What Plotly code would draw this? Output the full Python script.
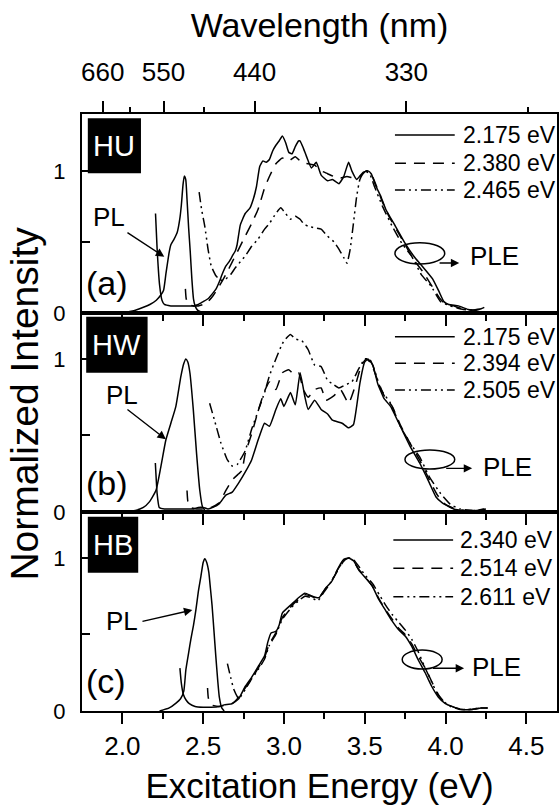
import plotly.graph_objects as go

FONT = "Liberation Sans, Arial, Helvetica, sans-serif"

# ---------------- data ----------------
# Panel (a): HU
e_pl_hu = [2.00, 2.08, 2.13, 2.17, 2.21, 2.24, 2.255, 2.27, 2.29, 2.30, 2.32, 2.34, 2.355, 2.365,
           2.375, 2.383, 2.392, 2.40, 2.41, 2.42, 2.43, 2.44, 2.45, 2.465, 2.49]
i_pl_hu = [0.0, 0.02, 0.04, 0.06, 0.09, 0.13, 0.16, 0.28, 0.43, 0.48, 0.52, 0.57, 0.66, 0.76,
           0.90, 0.963, 0.94, 0.80, 0.60, 0.43, 0.24, 0.10, 0.05, 0.02, 0.005]

e_hu_1 = [2.205, 2.215, 2.23, 2.245, 2.26, 2.30, 2.35, 2.40, 2.44, 2.47, 2.50, 2.53, 2.56, 2.58,
          2.60, 2.62, 2.64, 2.66, 2.68, 2.70, 2.71, 2.73, 2.76, 2.79, 2.81, 2.83, 2.85, 2.87,
          2.89, 2.91, 2.93, 2.95, 2.97, 2.99, 3.01, 3.03, 3.05, 3.07, 3.09, 3.10, 3.12, 3.14,
          3.17, 3.20, 3.23, 3.27, 3.30, 3.34, 3.37, 3.40, 3.42, 3.45, 3.49, 3.52, 3.54, 3.57,
          3.60, 3.63, 3.69, 3.75, 3.81, 3.87, 3.92, 3.96, 3.99, 4.02, 4.08, 4.14, 4.19, 4.22, 4.24]
i_hu_1 = [0.70, 0.45, 0.20, 0.09, 0.06, 0.05, 0.05, 0.05, 0.05, 0.06, 0.08, 0.10, 0.14, 0.17,
          0.22, 0.28, 0.33, 0.36, 0.40, 0.44, 0.48, 0.62, 0.70, 0.74, 0.80, 0.89, 1.03, 1.07,
          1.06, 1.08, 1.14, 1.18, 1.21, 1.245, 1.20, 1.13, 1.12, 1.17, 1.21, 1.21, 1.16, 1.10,
          1.02, 1.06, 0.97, 0.93, 0.94, 0.91, 0.96, 1.06, 1.00, 0.94, 0.99, 1.00, 0.98, 0.89,
          0.82, 0.73, 0.61, 0.49, 0.39, 0.31, 0.24, 0.15, 0.08, 0.06, 0.05, 0.025, 0.02, 0.03, 0.04]

e_hu_2 = [2.39, 2.395, 2.41, 2.44, 2.47, 2.50, 2.53, 2.56, 2.60, 2.64, 2.68, 2.72, 2.76, 2.80,
          2.84, 2.88, 2.91, 2.95, 2.99, 3.03, 3.07, 3.11, 3.15, 3.19, 3.23, 3.27, 3.31, 3.35,
          3.39, 3.43, 3.47, 3.51, 3.54, 3.57, 3.61, 3.65, 3.70, 3.75, 3.80, 3.86, 3.91, 3.96,
          4.00, 4.05, 4.10, 4.16, 4.22, 4.25]
i_hu_2 = [0.17, 0.10, 0.06, 0.05, 0.05, 0.06, 0.08, 0.12, 0.19, 0.27, 0.36, 0.45, 0.54, 0.63,
          0.73, 0.88, 0.96, 1.05, 1.09, 1.07, 1.10, 1.06, 1.05, 1.04, 1.00, 0.98, 0.96, 0.95,
          0.96, 0.95, 0.96, 1.00, 0.98, 0.90, 0.78, 0.68, 0.58, 0.48, 0.38, 0.29, 0.20, 0.11,
          0.06, 0.05, 0.03, 0.02, 0.03, 0.03]

e_hu_3 = [2.475, 2.49, 2.51, 2.53, 2.55, 2.58, 2.61, 2.64, 2.67, 2.70, 2.73, 2.76, 2.80, 2.84,
          2.88, 2.91, 2.95, 2.98, 3.01, 3.04, 3.07, 3.10, 3.12, 3.15, 3.19, 3.23, 3.27, 3.31,
          3.34, 3.37, 3.39, 3.41, 3.43, 3.45, 3.47, 3.50, 3.53, 3.56, 3.61, 3.67, 3.73, 3.79,
          3.85, 3.91, 3.97, 4.03, 4.11, 4.19]
i_hu_3 = [0.85, 0.73, 0.61, 0.45, 0.33, 0.26, 0.23, 0.24, 0.27, 0.32, 0.36, 0.40, 0.47, 0.52,
          0.59, 0.63, 0.70, 0.74, 0.70, 0.66, 0.68, 0.66, 0.63, 0.61, 0.60, 0.59, 0.54, 0.50,
          0.45, 0.39, 0.35, 0.45, 0.63, 0.82, 0.94, 1.00, 0.98, 0.89, 0.75, 0.61, 0.49, 0.40,
          0.27, 0.19, 0.08, 0.05, 0.025, 0.02]

# Panel (b): HW
e_pl_hw = [2.00, 2.08, 2.13, 2.167, 2.208, 2.238, 2.269, 2.30, 2.331, 2.362, 2.38, 2.393,
           2.405, 2.418, 2.439, 2.459, 2.479, 2.496, 2.515]
i_pl_hw = [0.0, 0.01, 0.03, 0.066, 0.142, 0.295, 0.47, 0.58, 0.69, 0.886, 0.97, 1.0,
           0.98, 0.908, 0.667, 0.383, 0.142, 0.033, 0.005]

e_hw_1 = [2.204, 2.215, 2.228, 2.26, 2.30, 2.35, 2.40, 2.44, 2.47, 2.50, 2.53, 2.56, 2.60, 2.64,
          2.68, 2.72, 2.76, 2.80, 2.84, 2.88, 2.91, 2.95, 2.98, 3.00, 3.04, 3.07, 3.10, 3.13,
          3.15, 3.19, 3.23, 3.27, 3.30, 3.36, 3.40, 3.43, 3.45, 3.47, 3.50, 3.52, 3.55, 3.58,
          3.62, 3.66, 3.72, 3.78, 3.84, 3.90, 3.94, 3.98, 4.05, 4.11, 4.19, 4.24]
i_hw_1 = [0.32, 0.12, 0.03, 0.02, 0.02, 0.02, 0.02, 0.02, 0.03, 0.03, 0.02, 0.03, 0.055, 0.11,
          0.13, 0.19, 0.26, 0.34, 0.47, 0.58, 0.56, 0.67, 0.74, 0.69, 0.78, 0.70, 0.91, 0.75,
          0.67, 0.73, 0.67, 0.64, 0.60, 0.58, 0.55, 0.57, 0.69, 0.84, 0.98, 1.00, 0.96, 0.84,
          0.74, 0.69, 0.56, 0.43, 0.32, 0.19, 0.10, 0.06, 0.02, 0.01, 0.01, 0.02]

e_hw_2 = [2.40, 2.405, 2.42, 2.46, 2.50, 2.55, 2.60, 2.64, 2.68, 2.72, 2.74, 2.76, 2.80, 2.84,
          2.88, 2.91, 2.95, 2.99, 3.03, 3.06, 3.09, 3.12, 3.15, 3.19, 3.23, 3.26, 3.31, 3.35,
          3.40, 3.44, 3.48, 3.51, 3.54, 3.58, 3.62, 3.67, 3.72, 3.78, 3.84, 3.90, 3.95, 4.00,
          4.06, 4.12, 4.19, 4.25]
i_hw_2 = [0.14, 0.07, 0.03, 0.02, 0.02, 0.03, 0.06, 0.14, 0.21, 0.25, 0.27, 0.38, 0.51, 0.66,
          0.79, 0.85, 0.80, 0.91, 0.93, 0.90, 0.91, 0.80, 0.75, 0.80, 0.81, 0.73, 0.76, 0.80,
          0.71, 0.82, 0.96, 1.00, 0.97, 0.86, 0.76, 0.69, 0.57, 0.45, 0.34, 0.21, 0.11, 0.05,
          0.02, 0.01, 0.01, 0.02]

e_hw_3 = [2.54, 2.57, 2.61, 2.65, 2.68, 2.71, 2.76, 2.80, 2.84, 2.88, 2.91, 2.95, 2.99, 3.01,
          3.04, 3.07, 3.11, 3.15, 3.19, 3.23, 3.27, 3.31, 3.34, 3.38, 3.42, 3.46, 3.50, 3.53,
          3.56, 3.60, 3.66, 3.72, 3.78, 3.84, 3.90, 3.97, 4.03, 4.09, 4.17, 4.25]
i_hw_3 = [0.71, 0.60, 0.45, 0.34, 0.30, 0.31, 0.40, 0.54, 0.66, 0.78, 0.89, 1.00, 1.10, 1.13,
          1.16, 1.13, 1.12, 1.06, 0.96, 0.95, 0.86, 0.83, 0.81, 0.83, 0.85, 0.93, 1.00, 1.00,
          0.93, 0.80, 0.71, 0.56, 0.45, 0.36, 0.23, 0.12, 0.05, 0.02, 0.01, 0.01]

# Panel (c): HB
e_pl_hb = [2.23, 2.29, 2.33, 2.36, 2.38, 2.393, 2.41, 2.424, 2.44, 2.455, 2.47, 2.486, 2.50,
           2.51, 2.522, 2.535, 2.545, 2.555, 2.567, 2.578, 2.59, 2.60, 2.615, 2.63]
i_pl_hb = [0.0, 0.02, 0.05, 0.08, 0.13, 0.27, 0.38, 0.47, 0.56, 0.66, 0.78, 0.88, 0.97,
           0.995, 0.97, 0.905, 0.80, 0.69, 0.52, 0.36, 0.20, 0.09, 0.02, 0.0]

e_hb_1 = [2.356, 2.365, 2.377, 2.395, 2.414, 2.45, 2.50, 2.55, 2.60, 2.63, 2.68, 2.72, 2.76,
          2.80, 2.84, 2.88, 2.90, 2.92, 2.95, 2.97, 2.99, 3.05, 3.09, 3.13, 3.175, 3.216, 3.257,
          3.298, 3.339, 3.37, 3.40, 3.432, 3.463, 3.504, 3.545, 3.586, 3.627, 3.668, 3.71, 3.75,
          3.792, 3.833, 3.874, 3.915, 3.956, 3.997, 4.038, 4.10, 4.16, 4.22, 4.26]
i_hb_1 = [0.28, 0.18, 0.11, 0.07, 0.048, 0.03, 0.025, 0.025, 0.03, 0.04, 0.048, 0.08, 0.16,
          0.22, 0.29, 0.36, 0.45, 0.51, 0.52, 0.56, 0.64, 0.70, 0.74, 0.77, 0.75, 0.74, 0.80,
          0.85, 0.94, 0.99, 1.00, 0.98, 0.92, 0.87, 0.82, 0.73, 0.66, 0.59, 0.53, 0.49,
          0.42, 0.33, 0.25, 0.16, 0.09, 0.05, 0.03, 0.01, 0.01, 0.02, 0.02]

e_hb_2 = [2.527, 2.532, 2.55, 2.60, 2.64, 2.68, 2.72, 2.76, 2.80, 2.84, 2.88, 2.91, 2.95, 2.99,
          3.05, 3.09, 3.13, 3.17, 3.21, 3.25, 3.30, 3.34, 3.37, 3.40, 3.43, 3.46, 3.50, 3.55,
          3.59, 3.63, 3.67, 3.71, 3.75, 3.79, 3.83, 3.88, 3.92, 3.96, 4.00, 4.04, 4.10, 4.16,
          4.22, 4.26]
i_hb_2 = [0.15, 0.085, 0.04, 0.03, 0.04, 0.05, 0.09, 0.15, 0.21, 0.28, 0.35, 0.44, 0.51, 0.61,
          0.69, 0.73, 0.76, 0.75, 0.73, 0.79, 0.86, 0.93, 0.98, 1.00, 0.98, 0.93, 0.88, 0.81,
          0.73, 0.66, 0.60, 0.54, 0.50, 0.44, 0.36, 0.27, 0.18, 0.10, 0.05, 0.03, 0.01, 0.01,
          0.02, 0.02]

e_hb_3 = [2.65, 2.67, 2.69, 2.72, 2.76, 2.80, 2.84, 2.88, 2.91, 2.95, 2.99, 3.05, 3.09, 3.13,
          3.17, 3.21, 3.25, 3.29, 3.33, 3.37, 3.40, 3.43, 3.46, 3.50, 3.55, 3.59, 3.63, 3.67,
          3.71, 3.75, 3.79, 3.83, 3.87, 3.91, 3.95, 3.99, 4.03, 4.09, 4.15, 4.21, 4.26]
i_hb_3 = [0.31, 0.22, 0.14, 0.08, 0.14, 0.21, 0.27, 0.34, 0.43, 0.50, 0.60, 0.68, 0.72, 0.75,
          0.74, 0.72, 0.78, 0.84, 0.92, 0.98, 1.00, 0.99, 0.95, 0.89, 0.83, 0.76, 0.69, 0.63,
          0.58, 0.53, 0.47, 0.39, 0.29, 0.20, 0.11, 0.06, 0.03, 0.01, 0.01, 0.02, 0.02]

sample_labels = ["HU", "HW", "HB"]
panel_tags = ["(a)", "(b)", "(c)"]
monitor_hu = ["2.175 eV", "2.380 eV", "2.465 eV"]
monitor_hw = ["2.175 eV", "2.394 eV", "2.505 eV"]
monitor_hb = ["2.340 eV", "2.514 eV", "2.611 eV"]

energy_ticks = [2.0, 2.5, 3.0, 3.5, 4.0, 4.5]
energy_minor = [2.25, 2.75, 3.25, 3.75, 4.25]
wl_ticks = [660, 550, 440, 330]
wl_minor = [605, 495, 385, 275]

# ---------------- styling ----------------
LW = 1.5
SOLID = "solid"
DASH = "11px,8px"
DADO = "10px,4px,2px,4px,2px,4px"
STYLES = [SOLID, DASH, DADO]
X_RANGE = [1.75, 4.69]

fig = go.Figure()

panels = [
    dict(xa="x", ya="y", pl=(e_pl_hu, i_pl_hu),
         ple=[(e_hu_1, i_hu_1), (e_hu_2, i_hu_2), (e_hu_3, i_hu_3)], names=monitor_hu),
    dict(xa="x2", ya="y2", pl=(e_pl_hw, i_pl_hw),
         ple=[(e_hw_1, i_hw_1), (e_hw_2, i_hw_2), (e_hw_3, i_hw_3)], names=monitor_hw),
    dict(xa="x3", ya="y3", pl=(e_pl_hb, i_pl_hb),
         ple=[(e_hb_1, i_hb_1), (e_hb_2, i_hb_2), (e_hb_3, i_hb_3)], names=monitor_hb),
]

for k, p in enumerate(panels):
    fig.add_trace(go.Scatter(x=p["pl"][0], y=p["pl"][1], mode="lines",
                             line=dict(color="black", width=LW, shape="spline", smoothing=0.5),
                             xaxis=p["xa"], yaxis=p["ya"], showlegend=False,
                             name="PL " + sample_labels[k]))
    for (ex, iy), nm, ds in zip(p["ple"], p["names"], STYLES):
        fig.add_trace(go.Scatter(x=ex, y=iy, mode="lines",
                                 line=dict(color="black", width=LW, dash=ds,
                                           shape="spline", smoothing=0.4),
                                 xaxis=p["xa"], yaxis=p["ya"], showlegend=False,
                                 name=sample_labels[k] + " " + nm))

# wavelength axis needs a (empty) trace to exist
fig.add_trace(go.Scatter(x=[], y=[], xaxis="x4", yaxis="y", showlegend=False))

tick_common = dict(tickcolor="black", tickwidth=2)
xbase = dict(range=X_RANGE, showline=True, linewidth=2, linecolor="black", mirror=True,
             ticks="outside", ticklen=11, tickvals=energy_ticks,
             minor=dict(tickvals=energy_minor, ticks="outside", ticklen=6,
                        tickwidth=2, tickcolor="black", showgrid=False),
             showgrid=False, zeroline=False, **tick_common)

fig.update_layout(
    xaxis=dict(xbase, anchor="y", showticklabels=False),
    xaxis2=dict(xbase, anchor="y2", matches="x", showticklabels=False),
    xaxis3=dict(xbase, anchor="y3", matches="x", showticklabels=True,
                tickfont=dict(size=26, family=FONT, color="black"),
                ticktext=[f"{v:.1f}" for v in energy_ticks],
                title=dict(text="Excitation Energy (eV)", standoff=17,
                           font=dict(size=35, family=FONT, color="black"))),
    xaxis4=dict(range=X_RANGE, overlaying="x", anchor="y", side="top",
                tickvals=[1240.0 / w for w in wl_ticks], ticktext=[str(w) for w in wl_ticks],
                ticks="outside", ticklen=12, ticklabelstandoff=10,
                minor=dict(tickvals=[1240.0 / w for w in wl_minor], ticks="outside",
                           ticklen=6, tickwidth=2, tickcolor="black", showgrid=False),
                showline=False, showgrid=False, zeroline=False,
                tickfont=dict(size=26, family=FONT, color="black"),
                title=dict(text="Wavelength (nm)", standoff=8,
                           font=dict(size=34, family=FONT, color="black")),
                **tick_common),
)

ybase = dict(tickvals=[0, 0.5, 1], ticktext=["0", "", "1"], ticks="inside", ticklen=8,
             showline=True, linewidth=2, linecolor="black", mirror=True,
             showgrid=False, zeroline=False, ticklabelstandoff=10,
             tickfont=dict(size=22, family=FONT, color="black"), **tick_common)
fig.update_layout(
    yaxis=dict(ybase, domain=[2 / 3, 1], range=[0, 1.4], anchor="x"),
    yaxis2=dict(ybase, domain=[1 / 3, 2 / 3], range=[0, 1.3], anchor="x2"),
    yaxis3=dict(ybase, domain=[0, 1 / 3], range=[0, 1.3], anchor="x3"),
)

shapes = []
annotations = []

# per-panel decorations: sample box, tags, PL arrow, PLE ellipse, monitor legend
deco = [
    dict(ya="y", box=(1.786, 2.115, 0.983, 1.37), boxlab=(1.95, 1.176),
         pl=(1.914, 0.672), pl_tail=(2.022, 0.572), pl_head=(2.259, 0.396),
         tag=(1.904, 0.211),
         ell=(3.687, 3.995, 0.345, 0.495), arr_tail=(3.954, 0.352), arr_head=(4.085, 0.352),
         ple=(4.14, 0.40),
         leg_x=(3.687, 4.057), leg_tx=4.094, leg_y=[1.252, 1.053, 0.865]),
    dict(ya="y2", box=(1.776, 2.156, 0.91, 1.276), boxlab=(1.966, 1.093),
         pl=(1.997, 0.764), pl_tail=(2.022, 0.677), pl_head=(2.269, 0.475),
         tag=(1.904, 0.19),
         ell=(3.749, 4.057, 0.281, 0.405), arr_tail=(3.995, 0.285), arr_head=(4.165, 0.285),
         ple=(4.221, 0.296),
         leg_x=(3.687, 4.057), leg_tx=4.098, leg_y=[1.145, 0.971, 0.797]),
    dict(ya="y3", box=(1.786, 2.098, 0.903, 1.269), boxlab=(1.942, 1.086),
         pl=(1.997, 0.588), pl_tail=(2.115, 0.583), pl_head=(2.433, 0.66),
         tag=(1.899, 0.196),
         ell=(3.732, 3.979, 0.274, 0.398), arr_tail=(3.913, 0.279), arr_head=(4.115, 0.279),
         ple=(4.149, 0.289),
         leg_x=(3.677, 4.047), leg_tx=4.077, leg_y=[1.117, 0.932, 0.747]),
]
xrefs = ["x", "x2", "x3"]
for k, d in enumerate(deco):
    xr, yr = xrefs[k], d["ya"]
    x0, x1, y0, y1 = d["box"]
    shapes.append(dict(type="rect", xref=xr, yref=yr, x0=x0, x1=x1, y0=y0, y1=y1,
                       fillcolor="black", line=dict(width=0), layer="above"))
    annotations.append(dict(xref=xr, yref=yr, x=d["boxlab"][0], y=d["boxlab"][1],
                            text=sample_labels[k], showarrow=False,
                            font=dict(size=29, family=FONT, color="white")))
    annotations.append(dict(xref=xr, yref=yr, x=d["pl"][0], y=d["pl"][1], text="PL",
                            showarrow=False, font=dict(size=26, family=FONT, color="black")))
    annotations.append(dict(xref=xr, yref=yr, x=d["pl_head"][0], y=d["pl_head"][1],
                            ax=d["pl_tail"][0], ay=d["pl_tail"][1], axref=xr, ayref=yr,
                            text="", showarrow=True, arrowhead=2, arrowsize=1.2,
                            arrowwidth=1.4, arrowcolor="black"))
    annotations.append(dict(xref=xr, yref=yr, x=d["tag"][0], y=d["tag"][1],
                            text=panel_tags[k], showarrow=False,
                            font=dict(size=34, family=FONT, color="black")))
    ex0, ex1, ey0, ey1 = d["ell"]
    shapes.append(dict(type="circle", xref=xr, yref=yr, x0=ex0, x1=ex1, y0=ey0, y1=ey1,
                       line=dict(color="black", width=1.5)))
    annotations.append(dict(xref=xr, yref=yr, x=d["arr_head"][0], y=d["arr_head"][1],
                            ax=d["arr_tail"][0], ay=d["arr_tail"][1], axref=xr, ayref=yr,
                            text="", showarrow=True, arrowhead=2, arrowsize=1.2,
                            arrowwidth=1.4, arrowcolor="black"))
    annotations.append(dict(xref=xr, yref=yr, x=d["ple"][0], y=d["ple"][1], text="PLE",
                            xanchor="left", showarrow=False,
                            font=dict(size=26, family=FONT, color="black")))
    names = [monitor_hu, monitor_hw, monitor_hb][k]
    for yy, nm, ds in zip(d["leg_y"], names, STYLES):
        shapes.append(dict(type="line", xref=xr, yref=yr, x0=d["leg_x"][0], x1=d["leg_x"][1],
                           y0=yy, y1=yy, line=dict(color="black", width=LW, dash=ds)))
        annotations.append(dict(xref=xr, yref=yr, x=d["leg_tx"], y=yy, text=nm,
                                xanchor="left", showarrow=False,
                                font=dict(size=23, family=FONT, color="black")))

annotations.append(dict(xref="paper", yref="paper", x=-0.12, y=0.515, text="Normalized Intensity",
                        textangle=-90, showarrow=False, xanchor="center", yanchor="middle",
                        font=dict(size=39, family=FONT, color="black")))

fig.update_layout(
    shapes=shapes, annotations=annotations,
    width=560, height=805,
    margin=dict(l=82, r=1, t=114, b=94),
    paper_bgcolor="white", plot_bgcolor="white",
    font=dict(family=FONT, color="black"),
    showlegend=False,
)

fig.write_html("out.html")
